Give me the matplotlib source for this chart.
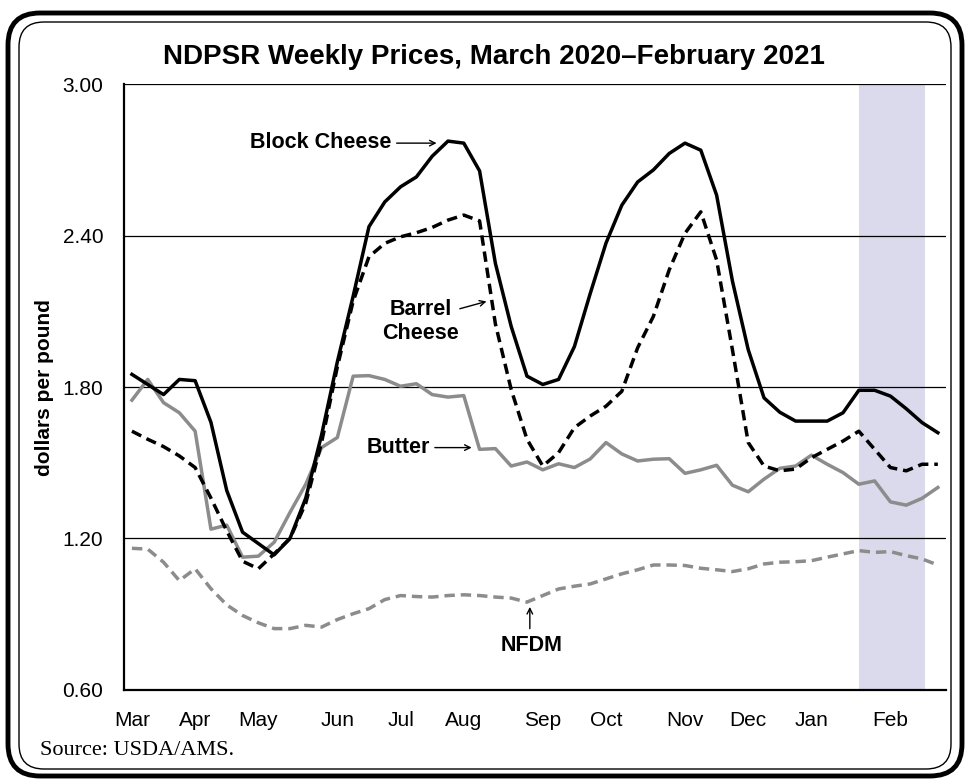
import numpy as np
import matplotlib
matplotlib.use('Agg')
import matplotlib.pyplot as plt
from matplotlib.patches import FancyBboxPatch

# weekly prices, first week of March 2020 to last week of February 2021
block = [1.85, 1.81, 1.77, 1.83, 1.825, 1.66, 1.39, 1.225, 1.18, 1.135,
         1.20, 1.36, 1.61, 1.90, 2.16, 2.435, 2.533, 2.593, 2.632, 2.714,
         2.774, 2.766, 2.656, 2.29, 2.04, 1.843, 1.81, 1.83, 1.96, 2.17,
         2.37, 2.52, 2.612, 2.66, 2.725, 2.766, 2.738, 2.56, 2.22, 1.948,
         1.757, 1.70, 1.665, 1.665, 1.665, 1.698, 1.787, 1.787, 1.764, 1.714,
         1.659, 1.619]
barrel = [1.625, 1.593, 1.564, 1.527, 1.481, 1.36, 1.23, 1.11, 1.08, 1.139,
          1.20, 1.34, 1.58, 1.88, 2.14, 2.316, 2.369, 2.395, 2.411, 2.432,
          2.461, 2.481, 2.458, 2.05, 1.79, 1.593, 1.487, 1.54, 1.639, 1.685,
          1.724, 1.783, 1.955, 2.08, 2.264, 2.409, 2.494, 2.303, 1.948, 1.58,
          1.487, 1.468, 1.475, 1.52, 1.553, 1.586, 1.625, 1.553, 1.481, 1.468,
          1.494, 1.494]
butter = [1.748, 1.83, 1.738, 1.698, 1.625, 1.237, 1.253, 1.126, 1.13, 1.185,
          1.303, 1.415, 1.56, 1.60, 1.843, 1.845, 1.83, 1.803, 1.813, 1.77,
          1.76, 1.766, 1.553, 1.556, 1.487, 1.503, 1.472, 1.496, 1.481, 1.515,
          1.58, 1.535, 1.507, 1.514, 1.516, 1.458, 1.472, 1.49, 1.411, 1.385,
          1.435, 1.478, 1.487, 1.53, 1.494, 1.461, 1.415, 1.428, 1.345, 1.332,
          1.359, 1.402]
nfdm = [1.161, 1.158, 1.106, 1.033, 1.08, 1.001, 0.937, 0.895, 0.866, 0.843,
        0.843, 0.856, 0.849, 0.879, 0.902, 0.922, 0.958, 0.974, 0.97, 0.968,
        0.974, 0.977, 0.974, 0.968, 0.964, 0.948, 0.974, 1.0, 1.011, 1.02,
        1.04, 1.06, 1.076, 1.095, 1.095, 1.093, 1.082, 1.076, 1.069, 1.08,
        1.099, 1.106, 1.108, 1.112, 1.126, 1.139, 1.152, 1.145, 1.148, 1.132,
        1.119, 1.095]

months = ['Mar', 'Apr', 'May', 'Jun', 'Jul', 'Aug', 'Sep', 'Oct', 'Nov', 'Dec', 'Jan', 'Feb']
month_week = [0, 4, 8, 13, 17, 21, 26, 30, 35, 39, 43, 48]
yticks = [0.60, 1.20, 1.80, 2.40, 3.00]
shade = (46, 50.2)

arial = ['Liberation Sans', 'DejaVu Sans']

fig = plt.figure(figsize=(9.69, 7.79), dpi=100)
ax = fig.add_axes([0.128, 0.1143, 0.848, 0.7778])

weeks = np.arange(len(block))
ax.axvspan(shade[0], shade[1], color='#dadaec', lw=0, zorder=0)

for y in yticks[1:]:
    ax.axhline(y, color='black', lw=0.9, zorder=1)

gray = '#8c8c8c'
ax.plot(weeks, nfdm, color=gray, lw=2.5, dashes=(3.0, 1.7), zorder=3)
ax.plot(weeks, butter, color=gray, lw=2.5, zorder=3)
ax.plot(weeks, barrel, color='black', lw=2.5, dashes=(3.0, 1.7), zorder=4)
ax.plot(weeks, block, color='black', lw=2.5, zorder=5)

ax.set_xlim(-0.5, 51.5)
ax.set_ylim(0.6, 3.0)
ax.set_yticks(yticks)
ax.set_yticklabels(['%.2f' % v for v in yticks], family=arial, fontsize=15)
ax.set_xticks(month_week)
ax.set_xticklabels(months, family=arial, fontsize=15)
ax.tick_params(axis='y', length=0, pad=15)
ax.tick_params(axis='x', length=0, pad=15)
for s in ['top', 'right']:
    ax.spines[s].set_visible(False)
ax.spines['left'].set_linewidth(1.6)
ax.spines['bottom'].set_linewidth(1.6)

# labels with arrows
lab = dict(family=arial, fontsize=15.5, fontweight='bold')
arr = dict(arrowstyle='->', color='black', lw=1, shrinkA=0, shrinkB=0)
ax.text(16.43, 2.77, 'Block Cheese', ha='right', va='center', **lab)
ax.annotate('', xy=(19.28, 2.766), xytext=(16.75, 2.766), arrowprops=arr)
ax.text(18.29, 2.061, 'Barrel\nCheese', ha='center', va='center', multialignment='center', **lab)
ax.annotate('', xy=(22.44, 2.139), xytext=(20.75, 2.110), arrowprops=arr)
ax.text(18.86, 1.56, 'Butter', ha='right', va='center', **lab)
ax.annotate('', xy=(21.5, 1.56), xytext=(19.17, 1.56), arrowprops=arr)
ax.text(25.28, 0.777, 'NFDM', ha='center', va='center', **lab)
ax.annotate('', xy=(25.18, 0.929), xytext=(25.18, 0.843), arrowprops=arr)

fig.text(0.046, 0.503, 'dollars per pound', rotation=90, ha='center', va='center',
         family=arial, fontsize=15, fontweight='bold')
fig.text(0.51, 0.927, 'NDPSR Weekly Prices, March 2020\u2013February 2021', ha='center', va='center',
         family=arial, fontsize=20, fontweight='bold')
fig.text(0.041, 0.037, 'Source: USDA/AMS.', ha='left', va='center',
         family=['Liberation Serif', 'DejaVu Serif'], fontsize=16)

# double rounded frame
outer = FancyBboxPatch((0.08, 0.03), 9.54, 7.63, boxstyle='round,pad=0,rounding_size=0.32',
                       transform=fig.dpi_scale_trans, fill=False, ec='black', lw=3.5)
inner = FancyBboxPatch((0.19, 0.10), 9.32, 7.47, boxstyle='round,pad=0,rounding_size=0.25',
                       transform=fig.dpi_scale_trans, fill=False, ec='black', lw=1)
fig.add_artist(outer)
fig.add_artist(inner)

fig.savefig('out.png', dpi=100)
